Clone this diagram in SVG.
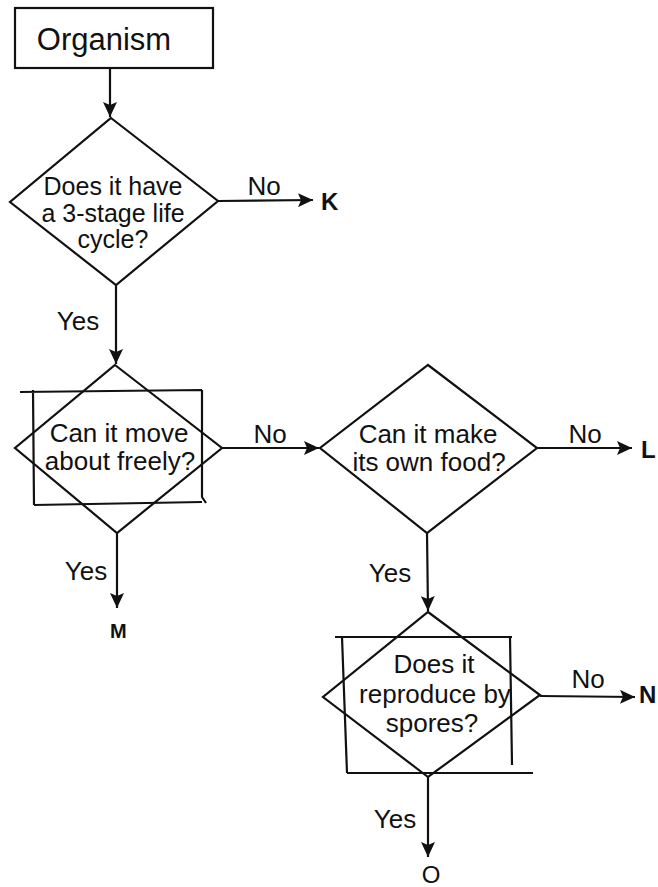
<svg xmlns="http://www.w3.org/2000/svg" width="658" height="887" viewBox="0 0 658 887">
<style>
.shape{fill:none;stroke:#111;stroke-width:2.2}
.conn{fill:none;stroke:#111;stroke-width:2.2}
.t{font-family:"Liberation Sans",Arial,sans-serif;font-size:26px;fill:#111;text-anchor:middle}
.lbl{font-family:"Liberation Sans",Arial,sans-serif;font-size:26px;fill:#111;text-anchor:middle}
.end{font-family:"Liberation Sans",Arial,sans-serif;font-size:24px;font-weight:bold;fill:#111}
</style>
<defs>
<marker id="arr" markerUnits="userSpaceOnUse" markerWidth="16" markerHeight="14" refX="15" refY="7" orient="auto">
<path d="M0,0 L15,7 L0,14 L3,7 Z" fill="#111"/>
</marker>
</defs>
<rect width="658" height="887" fill="#fff"/>
<g id="organism">
<rect class="shape" x="15" y="8" width="198" height="60"/>
<text class="t" x="104" y="50" style="font-size:31px">Organism</text>
</g>
<g id="q1">
<polygon class="shape" points="111,118 218,201 116,285 10,202"/>
<text class="t" x="113" y="195" style="font-size:25px">Does it have</text>
<text class="t" x="113" y="222" style="font-size:25px">a 3-stage life</text>
<text class="t" x="113" y="248" style="font-size:25px">cycle?</text>
</g>
<g id="q2">
<polygon class="shape" points="115,365 222,448 117,533 15,448"/>
<path class="shape" d="M20,392 L202,390 M33,390 L34,505 M202,390 L202,497 L206,503 M34,505 L202,502"/>
<text class="t" x="119" y="442">Can it move</text>
<text class="t" x="120" y="470">about freely?</text>
</g>
<g id="q3">
<polygon class="shape" points="428,365 537,448 427,533 320,448"/>
<text class="t" x="428" y="443">Can it make</text>
<text class="t" x="429" y="471">its own food?</text>
</g>
<g id="q4">
<polygon class="shape" points="428,612 540,695 428,777 323,697"/>
<path class="shape" d="M335,637 L512,637 M342,637 L347,773 M510,637 L512,765 M347,773 L533,773"/>
<text class="t" x="434" y="673">Does it</text>
<text class="t" x="435" y="703">reproduce by</text>
<text class="t" x="432" y="732">spores?</text>
</g>
<g id="connectors">
<line class="conn" x1="110" y1="68" x2="110" y2="117" marker-end="url(#arr)"/>
<line class="conn" x1="218" y1="201" x2="313" y2="200" marker-end="url(#arr)"/>
<line class="conn" x1="116" y1="285" x2="116" y2="364" marker-end="url(#arr)"/>
<line class="conn" x1="222" y1="448" x2="319" y2="448" marker-end="url(#arr)"/>
<line class="conn" x1="117" y1="533" x2="117" y2="608" marker-end="url(#arr)"/>
<line class="conn" x1="537" y1="448" x2="632" y2="448" marker-end="url(#arr)"/>
<line class="conn" x1="427" y1="533" x2="428" y2="611" marker-end="url(#arr)"/>
<line class="conn" x1="540" y1="696" x2="635" y2="697" marker-end="url(#arr)"/>
<line class="conn" x1="428" y1="777" x2="428" y2="857" marker-end="url(#arr)"/>
</g>
<g id="labels">
<text class="lbl" x="264" y="195">No</text>
<text class="lbl" x="78" y="330">Yes</text>
<text class="lbl" x="270" y="443">No</text>
<text class="lbl" x="86" y="580">Yes</text>
<text class="lbl" x="585" y="443">No</text>
<text class="lbl" x="390" y="582">Yes</text>
<text class="lbl" x="588" y="688">No</text>
<text class="lbl" x="395" y="828">Yes</text>
</g>
<g id="outcomes">
<text class="end" x="321" y="210">K</text>
<text class="end" x="641" y="458">L</text>
<text class="end" x="639" y="703">N</text>
<text class="end" x="110" y="638" style="font-size:20px">M</text>
<text class="t" x="431" y="883" style="font-size:24px">O</text>
</g>
</svg>
